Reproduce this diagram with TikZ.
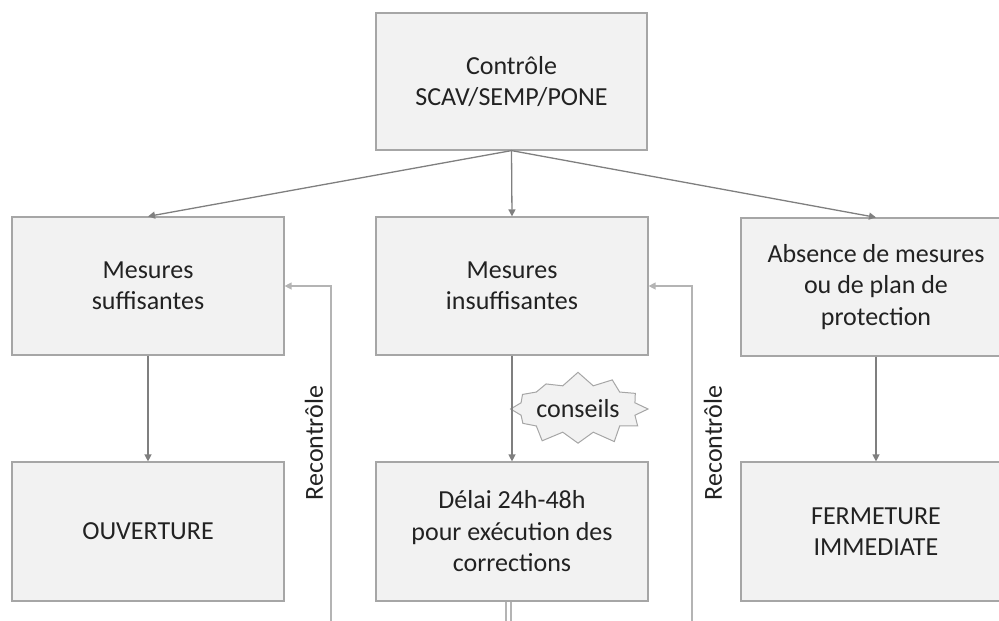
\documentclass[tikz,border=0pt]{standalone}
\usepackage{fontspec}
\setmainfont{Carlito}
\usetikzlibrary{shapes.symbols,arrows.meta}
\definecolor{boxfill}{HTML}{F2F2F2}
\definecolor{boxline}{HTML}{A6A6A6}
\definecolor{arr}{HTML}{7F7F7F}
\definecolor{rline}{HTML}{B4B4B4}
\definecolor{txt}{HTML}{222222}
\begin{document}
\begin{tikzpicture}[x=1pt,y=-1pt,
  box/.style={draw=boxline,fill=boxfill,line width=1.2pt,minimum width=272pt,minimum height=138pt,inner sep=0pt,align=center,text=txt,font=\fontsize{26}{31.5}\selectfont},
  conn/.style={draw=arr,line width=1.3pt,-{Triangle[length=7pt,width=7pt]}},
  recon/.style={draw=rline,line width=1.3pt,-{Triangle[length=7pt,width=7pt]}},
  plainline/.style={draw=rline,line width=1.1pt},
  lbl/.style={text=txt,font=\fontsize{26}{31.5}\selectfont,inner sep=0pt},
  burst/.style={starburst,starburst points=12,starburst point height=14pt,random starburst=7,draw=boxline,fill=boxfill,line width=1pt,minimum width=128pt,minimum height=76pt,inner sep=0pt,text=txt,font=\fontsize{26}{31.5}\selectfont}
]
\useasboundingbox (0,0) rectangle (999,621);
\clip (0,0) rectangle (999,621);

\node[box,minimum width=271pt,minimum height=137pt] (top) at (511.5,81.5) {Contrôle\\SCAV/SEMP/PONE};
\node[box] (ms) at (148,286) {Mesures\\suffisantes};
\node[box] (mi) at (512,286) {Mesures\\insuffisantes};
\node[box,minimum width=270pt] (ab) at (876,287) {Absence de mesures\\ou de plan de\\protection};
\node[box,minimum height=139pt] (ou) at (148,531.5) {OUVERTURE};
\node[box,minimum height=139pt] (de) at (512,531.5) {Délai 24h-48h\\pour exécution des\\corrections};
\node[box,minimum width=270pt,minimum height=139pt] (fe) at (876,531.5) {FERMETURE\\IMMEDIATE};

\draw[conn] (top.south) -- (ms.north);
\draw[conn] (top.south) -- (mi.north);
\draw[conn] (top.south) -- (ab.north);
\draw[conn] (ms.south) -- (ou.north);
\draw[conn] (ab.south) -- (fe.north);

\node[burst] (cs) at (578,409) {conseils};
\draw[conn] (mi.south) -- (de.north);

\coordinate (r1) at (331,621);
\coordinate (r2) at (692,621);
\draw[recon] (r1) |- (ms.east);
\draw[recon] (r2) |- (mi.east);
\node[lbl,rotate=90] (l1) at (314,443) {Recontrôle};
\node[lbl,rotate=90] (l2) at (713,443) {Recontrôle};

\draw[plainline] ([xshift=-6pt]de.south) -- ++(0,25);
\draw[plainline] ([xshift=-1pt]de.south) -- ++(0,25);
\end{tikzpicture}
\end{document}
